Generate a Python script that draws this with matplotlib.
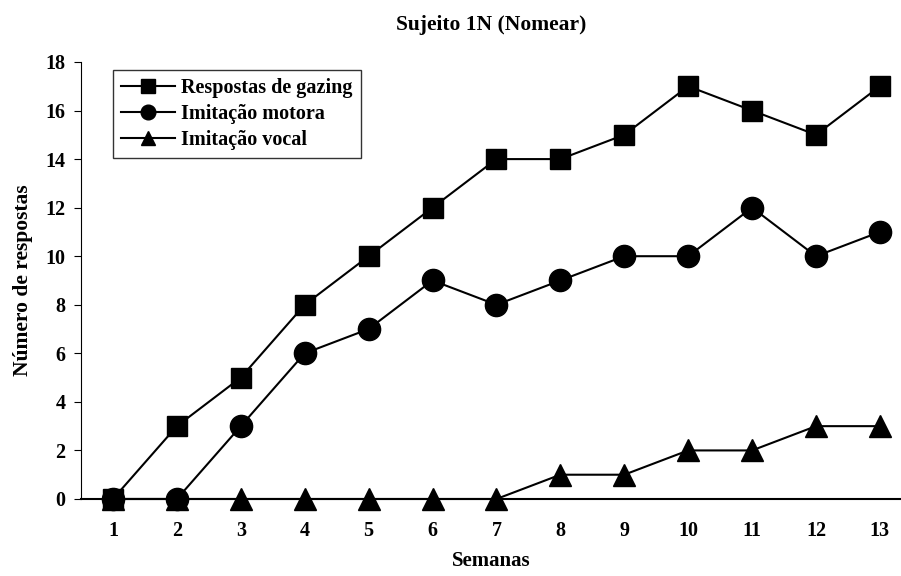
import matplotlib.pyplot as plt

semanas = list(range(1, 14))
gazing = [0, 3, 5, 8, 10, 12, 14, 14, 15, 17, 16, 15, 17]
motora = [0, 0, 3, 6, 7, 9, 8, 9, 10, 10, 12, 10, 11]
vocal = [0, 0, 0, 0, 0, 0, 0, 1, 1, 2, 2, 3, 3]

plt.rcParams['font.family'] = ['Liberation Serif', 'DejaVu Serif']
plt.rcParams['font.weight'] = 'bold'

fig = plt.figure(figsize=(9.01, 5.76), dpi=100)
ax = fig.add_axes([0.0899, 0.1337, 0.9101, 0.7587])

ax.plot(semanas, gazing, color='black', lw=1.5, marker='s', ms=15,
        label='Respostas de gazing', clip_on=False, zorder=3)
ax.plot(semanas, motora, color='black', lw=1.5, marker='o', ms=16,
        label='Imitação motora', clip_on=False, zorder=3)
ax.plot(semanas, vocal, color='black', lw=1.5, marker='^', ms=16,
        label='Imitação vocal', clip_on=False, zorder=3)

ax.set_xlim(0.5, 13.33)
ax.set_ylim(0, 18)
ax.set_yticks(range(0, 19, 2))
ax.set_xticks(semanas)
ax.tick_params(axis='x', length=0, pad=16, labelsize=14.5)
ax.tick_params(axis='y', length=5, direction='out', labelsize=14.5, pad=6)
ax.spines['top'].set_visible(False)
ax.spines['right'].set_visible(False)
ax.spines['bottom'].set_linewidth(1.5)

ax.set_title('Sujeito 1N (Nomear)', fontsize=15.5, fontweight='bold', pad=23)
ax.set_xlabel('Semanas', fontsize=15, fontweight='bold', labelpad=7)
ax.set_ylabel('Número de respostas', fontsize=15.5, fontweight='bold', labelpad=9)

leg = ax.legend(loc='upper left', bbox_to_anchor=(0.039, 0.982), fontsize=14.5,
                frameon=True, fancybox=False, edgecolor='black',
                handlelength=2.7, handletextpad=0.3, borderpad=0.4,
                labelspacing=0.3, markerscale=0.66, borderaxespad=0)
leg.get_frame().set_linewidth(1.0)

fig.savefig('out.png', dpi=100)
